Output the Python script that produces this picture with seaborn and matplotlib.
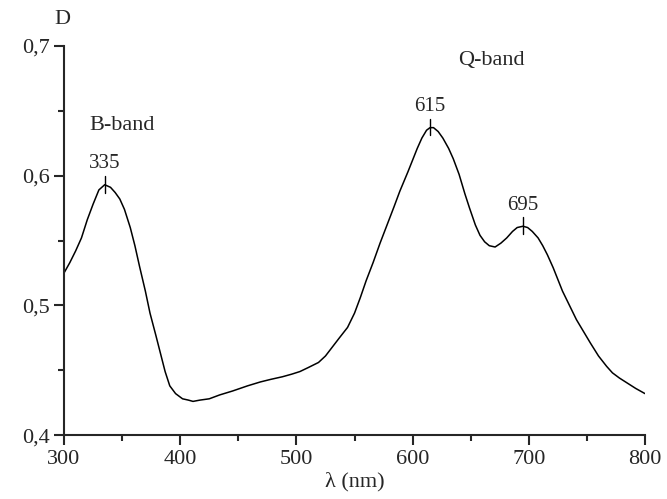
import matplotlib
matplotlib.use("Agg")
import matplotlib.pyplot as plt
import seaborn as sns
import pandas as pd
from matplotlib.ticker import MultipleLocator

# absorption spectrum
wavelength = [300, 305, 310, 315, 320, 325, 330, 335, 340, 344, 348, 352, 357, 361,
              365, 370, 374, 379, 383, 387, 391, 396, 402, 407, 411, 417, 425, 434,
              445, 458, 469, 478, 488, 496, 503, 510, 519, 525, 531, 537, 544, 550,
              555, 560, 566, 572, 578, 584, 589, 596, 600, 604, 608, 612, 615, 618,
              622, 626, 631, 635, 640, 645, 649, 654, 658, 662, 666, 671, 676, 681,
              686, 690, 695, 699, 703, 708, 712, 716, 721, 725, 729, 735, 741, 747,
              753, 760, 767, 772, 778, 785, 792, 800]
absorbance = [0.525, 0.533, 0.542, 0.552, 0.566, 0.578, 0.589, 0.593, 0.591, 0.587,
              0.582, 0.574, 0.560, 0.546, 0.530, 0.511, 0.494, 0.477, 0.463, 0.449,
              0.438, 0.432, 0.428, 0.427, 0.426, 0.427, 0.428, 0.431, 0.434, 0.438,
              0.441, 0.443, 0.445, 0.447, 0.449, 0.452, 0.456, 0.461, 0.468, 0.475,
              0.483, 0.494, 0.506, 0.519, 0.533, 0.548, 0.562, 0.576, 0.588, 0.603,
              0.612, 0.621, 0.629, 0.635, 0.637, 0.637, 0.634, 0.629, 0.621, 0.613,
              0.601, 0.586, 0.575, 0.562, 0.554, 0.549, 0.546, 0.545, 0.548, 0.552,
              0.557, 0.560, 0.561, 0.560, 0.557, 0.552, 0.546, 0.539, 0.529, 0.520,
              0.511, 0.500, 0.489, 0.480, 0.471, 0.461, 0.453, 0.448, 0.444, 0.440,
              0.436, 0.432]

peak_x = [335, 615, 695]
peak_y = [0.593, 0.637, 0.561]
peak_labels = ["335", "615", "695"]

band_labels = ["B-band", "Q-band"]
band_x = [350, 668]
band_y = [0.639, 0.689]

y_ticks = [0.4, 0.5, 0.6, 0.7]
y_tick_labels = ["0,4", "0,5", "0,6", "0,7"]
x_ticks = [300, 400, 500, 600, 700, 800]

df = pd.DataFrame({"wl": wavelength, "D": absorbance})

sns.set_style("ticks")
plt.rcParams["font.family"] = ["Liberation Serif", "DejaVu Serif"]

fig = plt.figure(figsize=(6.67, 4.99), dpi=100)
ax = fig.add_axes([0.096, 0.128, 0.871, 0.78])

sns.lineplot(data=df, x="wl", y="D", color="black", linewidth=1.1, ax=ax)

# peak markers and labels
for px, py, lab in zip(peak_x, peak_y, peak_labels):
    ax.plot([px, px], [py - 0.006, py + 0.007], color="black", linewidth=1.0)
    ax.text(px, py + 0.009, lab, ha="center", va="bottom", fontsize=15)

for lab, bx, by in zip(band_labels, band_x, band_y):
    ax.text(bx, by, lab, ha="center", va="center", fontsize=16)

ax.set_xlim(300, 800)
ax.set_ylim(0.4, 0.7)
ax.set_xticks(x_ticks)
ax.set_yticks(y_ticks)
ax.set_yticklabels(y_tick_labels)
ax.xaxis.set_minor_locator(MultipleLocator(50))
ax.yaxis.set_minor_locator(MultipleLocator(0.05))
ax.tick_params(which="major", length=7, width=1.5, labelsize=16, direction="out")
ax.tick_params(which="minor", length=4, width=1.5, direction="out")

for side in ["top", "right"]:
    ax.spines[side].set_visible(False)
for side in ["left", "bottom"]:
    ax.spines[side].set_linewidth(1.5)

ax.set_xlabel("λ (nm)", fontsize=16, labelpad=2)
ax.set_ylabel("")
fig.text(0.094, 0.96, "D", ha="center", va="center", fontsize=16)

fig.savefig("out.png", dpi=100)
